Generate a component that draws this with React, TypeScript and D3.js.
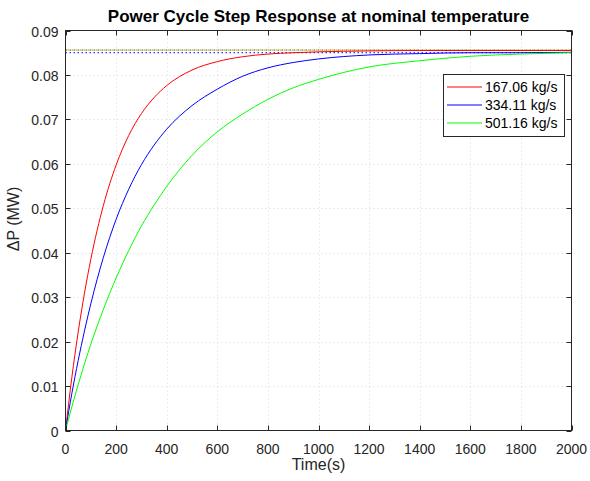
import React from "react";
import * as d3 from "d3";

const title = "Power Cycle Step Response at nominal temperature";
const xLabel = "Time(s)";
const yLabel = "ΔP (MW)";

const seriesNames = ["167.06 kg/s", "334.11 kg/s", "501.16 kg/s"];
const seriesColors = ["#ff0000", "#0000ff", "#00ff00"];

const times = [0, 25, 50, 75, 100, 150, 200, 250, 300, 350, 400, 500, 600, 700, 800, 900, 1000, 1200, 1400, 1600, 1800, 2000];
const red = [0, 0.0119, 0.0221, 0.0309, 0.0385, 0.0507, 0.0597, 0.0664, 0.0713, 0.0749, 0.0776, 0.0811, 0.083, 0.0841, 0.0847, 0.085, 0.0852, 0.0854, 0.0855, 0.0855, 0.0855, 0.0855];
const blue = [0, 0.0083, 0.0157, 0.0224, 0.0285, 0.039, 0.0475, 0.0543, 0.0598, 0.0642, 0.0678, 0.0731, 0.0768, 0.0797, 0.0816, 0.0828, 0.0836, 0.0845, 0.0848, 0.085, 0.085, 0.0851];
const green = [0, 0.0053, 0.0103, 0.015, 0.0194, 0.0273, 0.0343, 0.0405, 0.046, 0.0507, 0.0549, 0.0619, 0.0672, 0.0712, 0.0745, 0.0771, 0.079, 0.0818, 0.0832, 0.0842, 0.0847, 0.085];
const steadyState = [0.0856, 0.085, 0.0856];

const xTicks = [0, 200, 400, 600, 800, 1000, 1200, 1400, 1600, 1800, 2000];
const yTicks = [0, 0.01, 0.02, 0.03, 0.04, 0.05, 0.06, 0.07, 0.08, 0.09];

export default function App() {
  const W = 590, H = 481;
  const L = 65.5, R = 571.5, T = 30.5, B = 430.5;
  const x = d3.scaleLinear().domain([0, 2000]).range([L, R]);
  const y = d3.scaleLinear().domain([0, 0.09]).range([B, T]);
  const line = d3.line<[number, number]>().x(d => x(d[0])).y(d => y(d[1])).curve(d3.curveMonotoneX);
  const all = [red, blue, green];
  const axisColor = "#262626";
  const font = "'Liberation Sans', Arial, Helvetica, sans-serif";
  const tick = 5;
  return (
    <svg width={W} height={H} style={{ position: "absolute", left: 0, top: 0, background: "#fff" }} fontFamily={font}>
      <rect x={0} y={0} width={W} height={H} fill="#fff" />
      {xTicks.slice(1, -1).map(t => (
        <line key={"gx" + t} x1={Math.round(x(t)) + 0.5} x2={Math.round(x(t)) + 0.5} y1={T} y2={B} stroke="#d9d9d9" strokeDasharray="1,3" />
      ))}
      {yTicks.slice(1, -1).map(t => (
        <line key={"gy" + t} x1={L} x2={R} y1={Math.round(y(t)) + 0.5} y2={Math.round(y(t)) + 0.5} stroke="#d9d9d9" strokeDasharray="1,3" />
      ))}
      {steadyState.map((v, i) => (
        <line key={"ss" + i} x1={L} x2={R} y1={y(v)} y2={y(v)} stroke={seriesColors[i]} strokeWidth={1} strokeDasharray="1.5,2.5" strokeDashoffset={i === 2 ? 2 : 0} />
      ))}
      {all.map((vals, i) => (
        <path key={"c" + i} d={line(times.map((t, j) => [t, vals[j]] as [number, number])) || ""} fill="none" stroke={seriesColors[i]} strokeWidth={1} />
      ))}
      <rect x={L} y={T} width={R - L} height={B - T} fill="none" stroke={axisColor} strokeWidth={1} />
      {xTicks.map(t => (
        <g key={"xt" + t}>
          <line x1={Math.round(x(t)) + 0.5} x2={Math.round(x(t)) + 0.5} y1={B} y2={B - tick} stroke={axisColor} />
          <line x1={Math.round(x(t)) + 0.5} x2={Math.round(x(t)) + 0.5} y1={T} y2={T + tick} stroke={axisColor} />
          <text x={x(t)} y={B + 23} textAnchor="middle" fontSize={14} fill={axisColor}>{t}</text>
        </g>
      ))}
      {yTicks.map(t => (
        <g key={"yt" + t}>
          <line x1={L} x2={L + tick} y1={Math.round(y(t)) + 0.5} y2={Math.round(y(t)) + 0.5} stroke={axisColor} />
          <line x1={R} x2={R - tick} y1={Math.round(y(t)) + 0.5} y2={Math.round(y(t)) + 0.5} stroke={axisColor} />
          <text x={L - 7} y={y(t) + 6} textAnchor="end" fontSize={14} fill={axisColor}>{t === 0 ? "0" : t.toFixed(2)}</text>
        </g>
      ))}
      <text x={(L + R) / 2} y={22} textAnchor="middle" fontSize={17} fontWeight="bold" fill="#000">{title}</text>
      <text x={(L + R) / 2} y={470} textAnchor="middle" fontSize={16} fill={axisColor}>{xLabel}</text>
      <text transform={`translate(19, 219) rotate(-90)`} textAnchor="middle" fontSize={16} fill={axisColor}>{yLabel}</text>
      <g>
        <rect x={443.5} y={74.5} width={121} height={62} fill="#fff" stroke={axisColor} />
        {seriesNames.map((n, i) => (
          <g key={"lg" + i}>
            <line x1={447} x2={482} y1={87 + i * 18} y2={87 + i * 18} stroke={seriesColors[i]} />
            <text x={485} y={92 + i * 18} fontSize={14} fill="#000">{n}</text>
          </g>
        ))}
      </g>
    </svg>
  );
}
